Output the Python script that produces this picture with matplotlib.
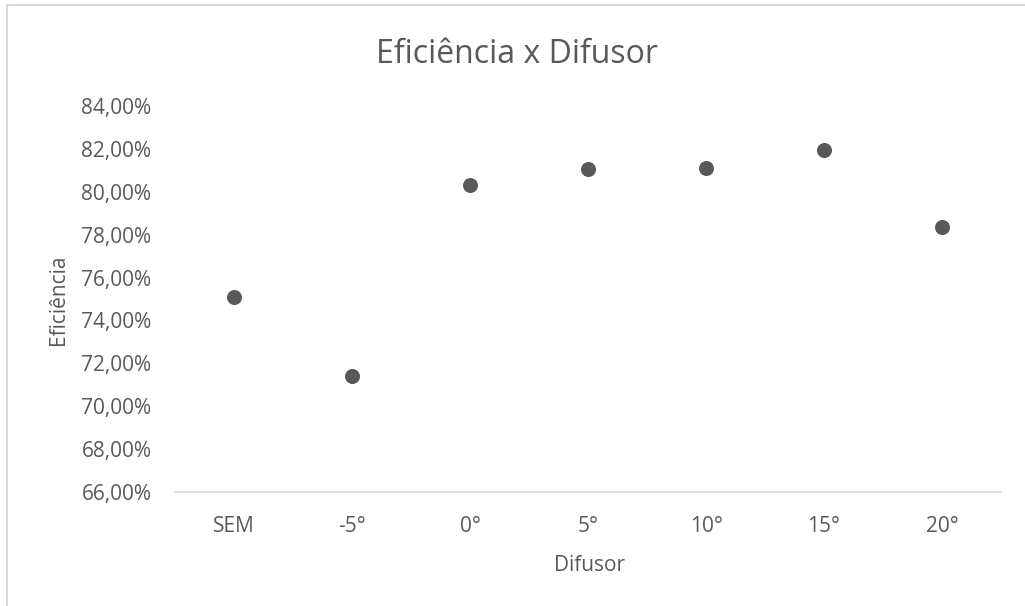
import matplotlib.pyplot as plt
from matplotlib.patches import Rectangle
from matplotlib.ticker import FuncFormatter

plt.rcParams['font.family'] = ['Open Sans', 'DejaVu Sans']

# eficiência medida para cada ângulo do difusor
difusores = ['SEM', '-5°', '0°', '5°', '10°', '15°', '20°']
eficiencia = [0.7510, 0.7140, 0.8033, 0.8105, 0.8112, 0.8193, 0.7835]

cinza = '#595959'
cinza_claro = '#d9d9d9'

fig = plt.figure(figsize=(10.25, 6.06), dpi=100)
W, H = 1025, 606

# moldura da área do gráfico
fig.patches.append(Rectangle((7 / W, -0.1), 1.2, 1 - 5 / H + 0.1, transform=fig.transFigure,
                             fill=False, edgecolor=cinza_claro, linewidth=1.5))

ax = fig.add_axes([175 / W, 1 - 492 / H, (1001 - 175) / W, (492 - 106) / H])
x = list(range(len(difusores)))
ax.scatter(x, eficiencia, s=15 ** 2 * 0.52, color=cinza, zorder=3, linewidths=0)

ax.set_xlim(-0.5, len(difusores) - 0.5)
ax.set_ylim(0.66, 0.84)
ax.set_yticks([0.66 + 0.02 * i for i in range(10)])
ax.yaxis.set_major_formatter(FuncFormatter(lambda v, p: f'{v * 100:.2f}%'.replace('.', ',')))
ax.set_xticks(x)
ax.set_xticklabels(difusores)

for s in ['top', 'right', 'left']:
    ax.spines[s].set_visible(False)
ax.spines['bottom'].set_color(cinza_claro)
ax.spines['bottom'].set_linewidth(1.2)
ax.tick_params(axis='both', length=0, labelsize=15, labelcolor=cinza)
ax.tick_params(axis='x', pad=17)
ax.tick_params(axis='y', pad=17)

fig.text(517 / W, 1 - 63 / H, 'Eficiência x Difusor', ha='center', va='baseline',
         fontsize=23, color=cinza)
fig.text(590 / W, 1 - 571 / H, 'Difusor', ha='center', va='baseline', fontsize=15, color=cinza)
fig.text(58 / W, 1 - 300 / H, 'Eficiência', ha='center', va='center', rotation=90,
         fontsize=15, color=cinza)

fig.savefig('out.png', dpi=100)
